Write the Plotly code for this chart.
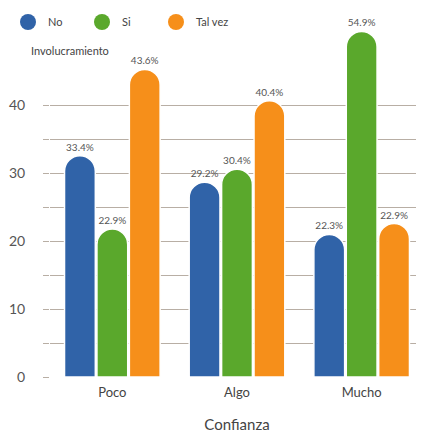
import plotly.graph_objects as go

categories = ["Poco", "Algo", "Mucho"]
series_names = ["No", "Si", "Tal vez"]
no_values = [32.6, 28.7, 21.0]
si_values = [21.8, 30.6, 50.9]
talvez_values = [45.3, 40.7, 22.6]
no_labels = ["33.4%", "29.2%", "22.3%"]
si_labels = ["22.9%", "30.4%", "54.9%"]
talvez_labels = ["43.6%", "40.4%", "22.9%"]
y_tickvals = [0, 5, 10, 15, 20, 25, 30, 35, 40]
y_ticktext = ["0", "", "10", "", "20", "", "30", "", "40"]

colors = ["#3063a8", "#5aa82c", "#f68f1a"]
values = [no_values, si_values, talvez_values]
labels = [no_labels, si_labels, talvez_labels]

FONT = "Lato"
GRID = "#b8aea4"

fig = go.Figure()
for name, vals, labs, col in zip(series_names, values, labels, colors):
    fig.add_trace(go.Bar(
        x=categories, y=vals, name=name, text=labs,
        textposition="outside", cliponaxis=False,
        textfont=dict(size=10, color="#555555", family=FONT),
        marker=dict(color=col, line=dict(color="white", width=1.5)),
        showlegend=False, hoverinfo="skip",
    ))
    fig.add_trace(go.Scatter(
        x=[None], y=[None], mode="markers", name=name,
        marker=dict(symbol="circle", size=22, color=col),
        showlegend=True,
    ))

# the page body adds an 8px offset, so the figure is sized/margined to compensate
fig.update_layout(
    width=416, height=425,
    margin=dict(l=42, r=0, t=16, b=56, autoexpand=False),
    paper_bgcolor="white", plot_bgcolor="white",
    barmode="group", bargap=0.22, bargroupgap=0.05,
    barcornerradius="50%",
    font=dict(family=FONT, color="#555555"),
    legend=dict(
        orientation="h", xref="container", yref="container",
        x=0.0, y=0.967, xanchor="left", yanchor="middle",
        entrywidth=29, entrywidthmode="pixels",
        font=dict(size=11, color="#444444", family=FONT),
        itemsizing="trace", bgcolor="rgba(0,0,0,0)",
    ),
    annotations=[dict(
        text="Involucramiento", xref="paper", yref="paper",
        x=-0.055, y=0.926, xanchor="left", yanchor="middle",
        showarrow=False, font=dict(size=11, color="#444444", family=FONT),
    )],
)
fig.update_yaxes(
    range=[0, 52], tickvals=y_tickvals, ticktext=y_ticktext,
    showgrid=True, gridcolor=GRID, gridwidth=1,
    zeroline=False, showline=False,
    ticks="outside", ticklen=6, tickcolor=GRID, tickwidth=1,
    ticklabelstandoff=15,
    tickfont=dict(size=14, color="#555555", family=FONT),
)
fig.update_xaxes(
    showgrid=False, zeroline=False, showline=False, ticks="",
    tickfont=dict(size=13, color="#444444", family=FONT),
    ticklabelstandoff=6,
    title=dict(text="Confianza", standoff=20,
               font=dict(size=15, color="#444444", family=FONT)),
)

fig.write_html("out.html")
